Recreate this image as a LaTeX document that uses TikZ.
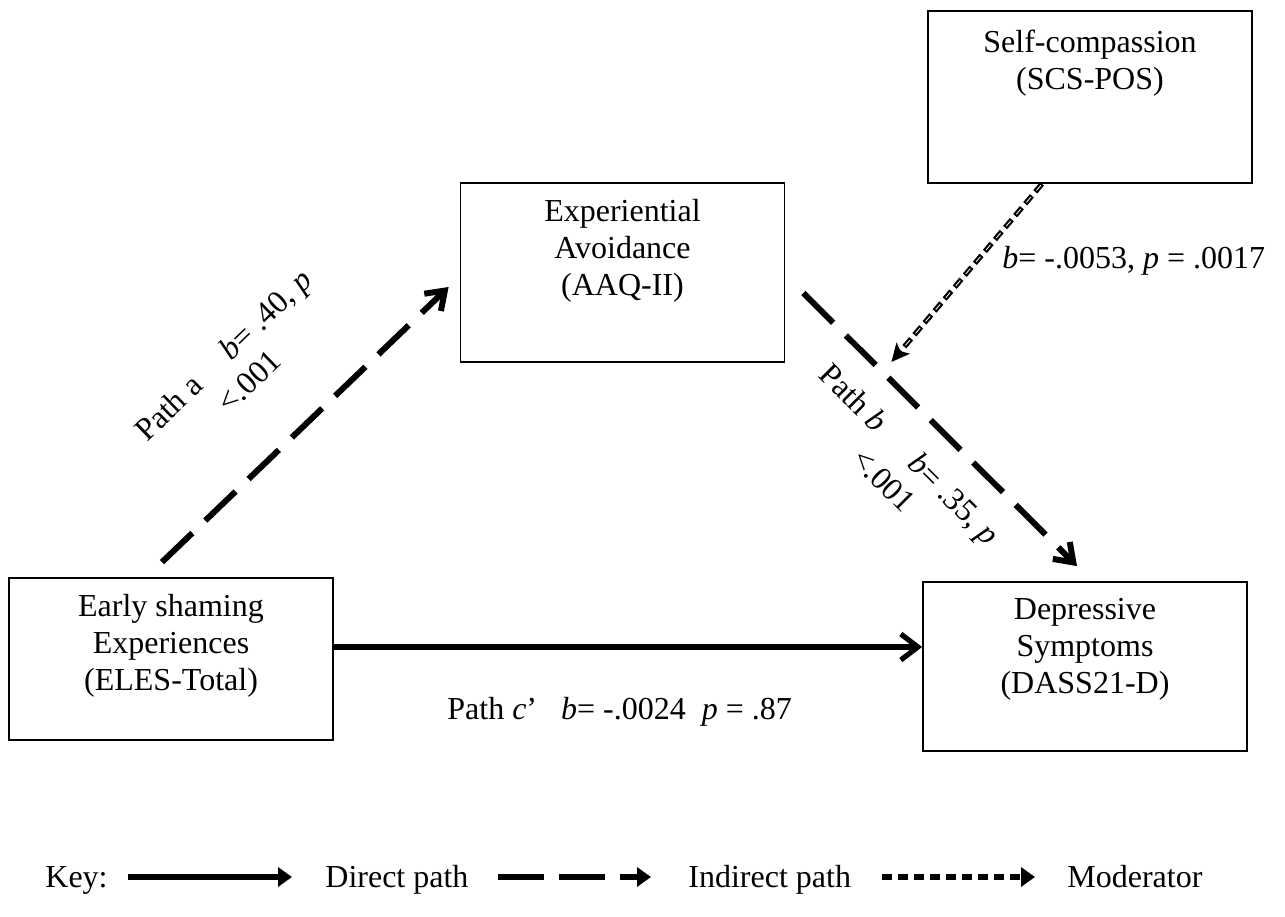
\documentclass[tikz,border=0pt]{standalone}
\usepackage{fontspec}
\setmainfont{Liberation Serif}
\usetikzlibrary{arrows.meta,calc}

\begin{document}
\begin{tikzpicture}[x=0.5pt,y=-0.5pt,
  txt/.style={inner sep=0pt,font=\fontsize{16pt}{18.5pt}\selectfont},
  box/.style={draw,line width=0.9pt,minimum width=162pt,inner sep=0pt},
  boxtext/.style={txt,anchor=north,align=center},
  pathlabel/.style={txt,align=center},
  directpath/.style={line width=2.6pt,-{Straight Barb[length=8.5pt,width=13pt]}},
  indirectpath/.style={line width=3pt,dash pattern=on 21pt off 9pt,-{Straight Barb[length=8.5pt,width=12pt]}},
  modpath/.style={line width=2.6pt,dash pattern=on 5.2pt off 2.6pt,-{Stealth[length=9pt,width=8.5pt,inset=2pt]}},
  modcore/.style={white,line width=0.4pt,dash pattern=on 3.4pt off 4.4pt,dash phase=-0.9pt,shorten >=11pt},
  keysolid/.style={line width=3pt,-{Triangle[length=7pt,width=9.5pt]}},
  keydash/.style={line width=3pt,dash pattern=on 23pt off 7.5pt,-{Triangle[length=7pt,width=9.5pt]}},
  keymod/.style={line width=3pt,dash pattern=on 5pt off 3pt,-{Triangle[length=7pt,width=9.5pt]}}]

% page frame
\useasboundingbox (0,0) rectangle (1285,916);

% variable boxes
\node[box,minimum height=81pt]   (early) at (171,659)   {};
\node[box,minimum height=84.5pt] (dep)   at (1085,666.5) {};
\node[box,minimum height=89.5pt] (exp)   at (622.5,272.5) {};
\node[box,minimum height=86pt]   (self)  at (1090,97)   {};

\node[boxtext] (earlyT) at ([yshift=-8.5pt]early.north) {Early shaming\\Experiences\\(ELES-Total)};
\node[boxtext] (depT)   at ([yshift=-8.5pt]dep.north)   {Depressive\\Symptoms\\(DASS21-D)};
\node[boxtext] (expT)   at ([yshift=-8.5pt]exp.north)   {Experiential\\Avoidance\\(AAQ-II)};
\node[boxtext] (selfT)  at ([yshift=-9.5pt]self.north)  {Self-compassion\\(SCS-POS)};

% direct path c'
\coordinate (dstart) at ([yshift=6pt]early.east);
\draw[directpath] (dstart) -- (dstart -| dep.west);
\node[txt,anchor=base west] (cLab) at (447,719)
  {Path \textit{c}’~~~\textit{b}= -.0024~~\textit{p} = .87};

% indirect paths a and b
\draw[indirectpath] ([shift={(-9,-15)}]early.north) -- ([shift={(-11,14.5)}]exp.west);
\draw[indirectpath] ([shift={(18,20.5)}]exp.east) -- ([shift={(-8,-15)}]dep.north);
\node[pathlabel,rotate=44] (aLab) at (236,368)
  {Path a\hspace{1.2em}\textit{b}= .40, \textit{p}\\<.001};
\node[pathlabel,rotate=-45] (bLab) at (897,467)
  {Path \textit{b}\hspace{1.4em}\textit{b}= .35, \textit{p}\\<.001};

% moderator
\coordinate (modtip) at ([shift={(106,89.5)}]exp.east);
\draw[modpath] ([xshift=-24pt]self.south) -- (modtip);
\draw[modcore] ([xshift=-24pt]self.south) -- (modtip);
\node[txt,anchor=base west] (modLab) at (1002,268)
  {\textit{b}= -.0053, \textit{p} = .0017};

% key
\node[txt,anchor=base west] (key) at (45,887) {Key:};
\coordinate (k1a) at (128,877); \coordinate (k1b) at (292,877);
\draw[keysolid] (k1a) -- (k1b);
\node[txt,anchor=base west] (kDirect) at (325,887) {Direct path};
\coordinate (k2a) at (498,877); \coordinate (k2b) at (651,877);
\draw[keydash] (k2a) -- (k2b);
\node[txt,anchor=base west] (kIndirect) at (688,887) {Indirect path};
\coordinate (k3a) at (882,877); \coordinate (k3b) at (1035,877);
\draw[keymod] (k3a) -- (k3b);
\node[txt,anchor=base west] (kMod) at (1067,887) {Moderator};
\end{tikzpicture}
\end{document}
